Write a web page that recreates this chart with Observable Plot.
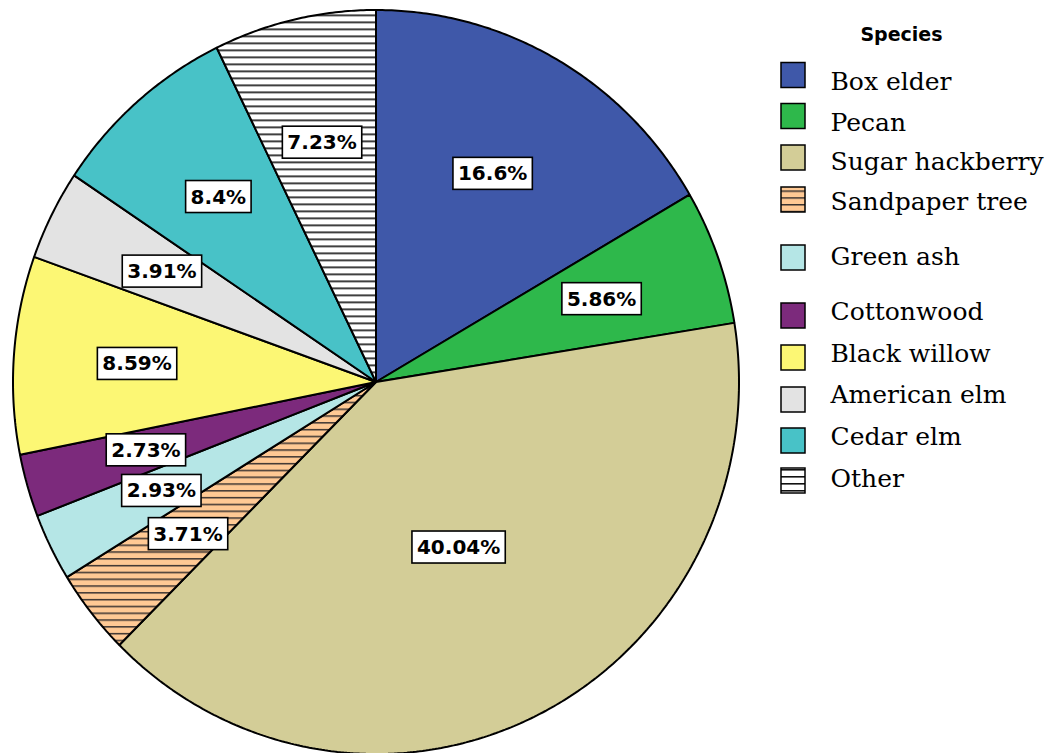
<!DOCTYPE html>
<html>
<head>
<meta charset="utf-8">
<script src="https://cdn.jsdelivr.net/npm/d3@7"></script>
<script src="https://cdn.jsdelivr.net/npm/@observablehq/plot@0.6"></script>
<style>
  html, body { margin: 0; padding: 0; background: #fff; }
</style>
</head>
<body>
<script>
// ---------- data ----------
const species = ["Box elder", "Pecan", "Sugar hackberry", "Sandpaper tree", "Green ash",
                 "Cottonwood", "Black willow", "American elm", "Cedar elm", "Other"];
const shares = [16.6, 5.86, 40.04, 3.71, 2.93, 2.73, 8.59, 3.91, 8.4, 7.23];
const percentLabels = ["16.6%", "5.86%", "40.04%", "3.71%", "2.93%", "2.73%", "8.59%", "3.91%", "8.4%", "7.23%"];
const legendTitle = "Species";

// ---------- styles ----------
const fills = ["#3F58A9", "#2EB84B", "#D3CD97", "url(#hatch-sand)", "#B5E6E6",
               "#7C2A7C", "#FCF774", "#E3E3E3", "#48C2C7", "url(#hatch-other)"];

// ---------- layout ----------
const W = 1049, H = 753;
const CX = 375.5, CY = 381.5, RX = 363, RY = 372;
const legendSwatchY = [75, 116, 157.5, 199.5, 257.5, 315.5, 357.5, 399.5, 440.5, 480.5];
const legendTextY = [81, 122.5, 161, 201, 256, 311, 353, 394, 436, 478];

// ---------- build geometry from data ----------
const total = d3.sum(shares);
let acc = 0;
const slicePts = [];
const labelPts = [];
species.forEach((s, i) => {
  const a0 = acc / total * 2 * Math.PI;
  acc += shares[i];
  const a1 = acc / total * 2 * Math.PI;
  const n = Math.max(2, Math.ceil((a1 - a0) / (Math.PI / 360)));
  slicePts.push({s, fill: fills[i], x: CX, y: CY});
  for (let k = 0; k <= n; k++) {
    const a = a0 + (a1 - a0) * k / n;
    slicePts.push({s, fill: fills[i], x: CX + RX * Math.sin(a), y: CY - RY * Math.cos(a)});
  }
  slicePts.push({s, fill: fills[i], x: CX, y: CY});
  const am = (a0 + a1) / 2;
  const r = shares[i] / total > 0.3 ? 0.5 : (shares[i] / total > 0.15 ? 0.645 : 0.66);
  labelPts.push({label: percentLabels[i], x: CX + r * RX * Math.sin(am), y: CY - r * RY * Math.cos(am)});
});
const legendRows = species.map((s, i) => ({name: s, fill: fills[i], sy: legendSwatchY[i], ty: legendTextY[i]}));

const chart = Plot.plot({
  width: W,
  height: H,
  margin: 0,
  x: {domain: [0, W], range: [0, W], axis: null},
  y: {domain: [0, H], range: [0, H], axis: null},
  color: {type: "identity"},
  marks: [
    Plot.line(slicePts, {x: "x", y: "y", z: "s", fill: "fill", stroke: "black", strokeWidth: 2, strokeLinejoin: "miter"}),
    Plot.text(labelPts, {x: "x", y: "y", text: "label", fontFamily: "DejaVu Sans", fontWeight: "bold",
      fontSize: 20, fill: "black"}),
    Plot.rect(legendRows, {x1: () => 781, x2: () => 805, y1: d => d.sy - 12.5, y2: d => d.sy + 12.5,
      fill: "fill", stroke: "black", strokeWidth: 1.5}),
    Plot.text(legendRows, {x: () => 830, y: "ty", text: "name", textAnchor: "start",
      fontFamily: "DejaVu Serif", fontSize: 25, fill: "black"}),
    Plot.text([legendTitle], {x: () => 901, y: () => 34, text: d => d, fontFamily: "DejaVu Sans",
      fontWeight: "bold", fontSize: 19, fill: "black"})
  ]
});

document.body.append(chart);

// ---------- patterns ----------
const NS = "http://www.w3.org/2000/svg";
function el(tag, attrs, parent) {
  const e = document.createElementNS(NS, tag);
  for (const k in attrs) e.setAttribute(k, attrs[k]);
  if (parent) parent.appendChild(e);
  return e;
}
const defs = el("defs", {});
chart.insertBefore(defs, chart.firstChild);
function hatch(id, bg, line, step, lw) {
  const p = el("pattern", {id, patternUnits: "userSpaceOnUse", width: 10, height: step}, defs);
  el("rect", {x: 0, y: 0, width: 10, height: step, fill: bg}, p);
  el("rect", {x: 0, y: 0, width: 10, height: lw, fill: line}, p);
}
hatch("hatch-sand", "#FFC994", "#3a3330", 6.8, 1.5);
hatch("hatch-other", "#FFFFFF", "#111111", 7, 1.6);

// ---------- label boxes ----------
const pctSet = new Set(percentLabels);
Array.from(chart.querySelectorAll("text"))
  .filter(t => pctSet.has(t.textContent.trim()))
  .forEach(t => {
    const b = t.getBBox();
    const r = el("rect", {
      x: b.x - 5, y: b.y - 4, width: b.width + 10, height: b.height + 8,
      fill: "white", stroke: "black", "stroke-width": 1.6
    });
    const tr = t.getAttribute("transform");
    if (tr) r.setAttribute("transform", tr);
    t.parentNode.insertBefore(r, t);
  });
</script>
</body>
</html>
